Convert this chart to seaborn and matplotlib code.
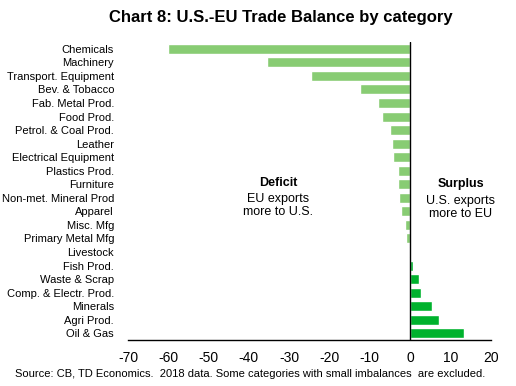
import matplotlib
matplotlib.use("Agg")
import matplotlib.pyplot as plt
import seaborn as sns
import pandas as pd

categories = ["Chemicals", "Machinery", "Transport. Equipment", "Bev. & Tobacco",
              "Fab. Metal Prod.", "Food Prod.", "Petrol. & Coal Prod.", "Leather",
              "Electrical Equipment", "Plastics Prod.", "Furniture",
              "Non-met. Mineral Prod", "Apparel", "Misc. Mfg", "Primary Metal Mfg",
              "Livestock", "Fish Prod.", "Waste & Scrap", "Comp. & Electr. Prod.",
              "Minerals", "Agri Prod.", "Oil & Gas"]
balance = [-60.0, -35.6, -24.6, -12.4, -8.0, -7.0, -5.0, -4.5, -4.2, -3.0, -3.0,
           -2.7, -2.2, -1.2, -1.1, -0.3, 0.6, 2.2, 2.7, 5.4, 7.2, 13.4]
xticks = [-70, -60, -50, -40, -30, -20, -10, 0, 10, 20]

df = pd.DataFrame({"category": categories, "balance": balance})
colors = ["#88CC73" if v < 0 else "#00B22D" for v in df["balance"]]

sns.set_style("white")
plt.rcParams["font.family"] = ["Liberation Sans", "DejaVu Sans"]
plt.rcParams["axes.unicode_minus"] = False
plt.rcParams["text.color"] = "black"
plt.rcParams["xtick.color"] = "black"
plt.rcParams["ytick.color"] = "black"

fig = plt.figure(figsize=(5.16, 3.86), dpi=100)
ax = fig.add_axes([0.248, 0.119, 0.703, 0.772])

sns.barplot(data=df, x="balance", y="category", hue="category", palette=colors,
            legend=False, orient="h", width=0.74, saturation=1, ax=ax)

ax.axvline(0, color="black", linewidth=1)
ax.set_xlim(-70, 20)
ax.set_ylim(21.5, -0.5)
ax.set_xticks(xticks)
ax.set_xlabel("")
ax.set_ylabel("")
ax.tick_params(axis="x", length=0, labelsize=10, pad=8)
ax.tick_params(axis="y", length=0, labelsize=8, pad=10)
for s in ["top", "right", "left"]:
    ax.spines[s].set_visible(False)
ax.spines["bottom"].set_color("black")
ax.spines["bottom"].set_linewidth(1)

ax.text(-32.8, 9.9, "Deficit", ha="center", va="center", fontsize=9, fontweight="bold")
ax.text(-32.8, 11.55, "EU exports\nmore to U.S.", ha="center", va="center", fontsize=9,
        linespacing=1.15)
ax.text(12.6, 10.0, "Surplus", ha="center", va="center", fontsize=9, fontweight="bold")
ax.text(12.6, 11.7, "U.S. exports\nmore to EU", ha="center", va="center", fontsize=9,
        linespacing=1.15)

fig.text(0.545, 0.955, "Chart 8: U.S.-EU Trade Balance by category", ha="center",
         va="center", fontsize=12, fontweight="bold")
fig.text(0.029, 0.031, "Source: CB, TD Economics.  2018 data. Some categories with small imbalances  are excluded.",
         ha="left", va="center", fontsize=8)

fig.savefig("out.png", dpi=100)
